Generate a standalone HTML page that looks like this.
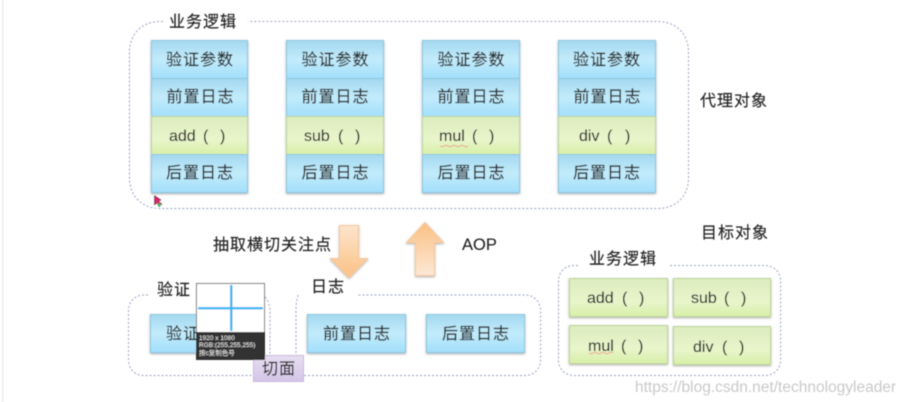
<!DOCTYPE html>
<html><head><meta charset="utf-8"><style>
html,body{margin:0;padding:0;background:#fff;width:909px;height:402px;overflow:hidden}
svg{display:block}
text{font-family:"Liberation Sans","Noto Sans CJK SC",sans-serif;fill:#222}
.t{font-size:16px;letter-spacing:1px;stroke:#222;stroke-width:.15px}
.a{font-size:16px;stroke:#222;stroke-width:.1px}
.g{filter:url(#b)}
</style></head><body>
<svg width="909" height="402" viewBox="0 0 909 402" xmlns="http://www.w3.org/2000/svg">
<defs>
<linearGradient id="bl" x1="0" y1="0" x2="0" y2="1"><stop offset="0" stop-color="#a4d8f0"/><stop offset=".5" stop-color="#c2ebfb"/><stop offset="1" stop-color="#a2dffb"/></linearGradient>
<linearGradient id="gr" x1="0" y1="0" x2="0" y2="1"><stop offset="0" stop-color="#dcecbe"/><stop offset=".6" stop-color="#e8f5cb"/><stop offset="1" stop-color="#d8efa8"/></linearGradient>
<linearGradient id="od" x1="0" y1="0" x2="0" y2="1"><stop offset="0" stop-color="#fde4cc"/><stop offset="1" stop-color="#fbc184"/></linearGradient>
<linearGradient id="ou" x1="0" y1="0" x2="0" y2="1"><stop offset="0" stop-color="#fbc184"/><stop offset="1" stop-color="#fde8d6"/></linearGradient>
<linearGradient id="pu" x1="0" y1="0" x2="0" y2="1"><stop offset="0" stop-color="#e6def0"/><stop offset="1" stop-color="#d4c5e8"/></linearGradient>
<filter id="b" x="-5%" y="-5%" width="110%" height="110%"><feGaussianBlur stdDeviation="0.45"/></filter>
<filter id="s" x="-10%" y="-10%" width="120%" height="125%"><feDropShadow dx="0" dy="1" stdDeviation="1" flood-color="#666" flood-opacity=".6"/></filter>
</defs>
<g class="g">
<rect x="2" y="0" width="1.5" height="402" fill="#ececec"/>
<g fill="none" stroke="#9aa3c4" stroke-width="1" stroke-dasharray="2 2">
<path d="M163 21.500H160C142 21.500 129.500 34 129.500 52V178C129.500 196 142 208.500 160 208.500H658C676 208.500 688.500 196 688.500 178V52C688.500 34 676 21.500 658 21.500H248"/>
<path d="M148 295H144C135 295 128.500 302 128.500 310V360C128.500 369 135 375.500 144 375.500H253M304 375.500H525C534 375.500 540.500 369 540.500 360V310C540.500 302 534 295 525 295H358M298 295C296.800 300 296 304 296 310V372M265 297C268 300 270 305 270 312V355"/>
<path d="M578 265.500H574C565 265.500 558.500 272 558.500 281V360C558.500 369 565 375.500 574 375.500H765C774 375.500 780.500 369 780.500 360V281C780.500 272 774 265.500 765 265.500H668"/>
</g>

<g filter="url(#s)" stroke="#8cc6de" stroke-width="1">
<rect x="151.500" y="40.500" width="96" height="38" fill="url(#bl)"/><rect x="151.500" y="78.500" width="96" height="38" fill="url(#bl)"/><rect x="151.500" y="116.500" width="96" height="38" fill="url(#gr)" stroke="#bdd39a"/><rect x="151.500" y="154.500" width="96" height="38" fill="url(#bl)"/>
<rect x="286.500" y="40.500" width="97" height="38" fill="url(#bl)"/><rect x="286.500" y="78.500" width="97" height="38" fill="url(#bl)"/><rect x="286.500" y="116.500" width="97" height="38" fill="url(#gr)" stroke="#bdd39a"/><rect x="286.500" y="154.500" width="97" height="38" fill="url(#bl)"/>
<rect x="422.500" y="40.500" width="97" height="38" fill="url(#bl)"/><rect x="422.500" y="78.500" width="97" height="38" fill="url(#bl)"/><rect x="422.500" y="116.500" width="97" height="38" fill="url(#gr)" stroke="#bdd39a"/><rect x="422.500" y="154.500" width="97" height="38" fill="url(#bl)"/>
<rect x="558.500" y="40.500" width="97" height="38" fill="url(#bl)"/><rect x="558.500" y="78.500" width="97" height="38" fill="url(#bl)"/><rect x="558.500" y="116.500" width="97" height="38" fill="url(#gr)" stroke="#bdd39a"/><rect x="558.500" y="154.500" width="97" height="38" fill="url(#bl)"/>
<rect x="150.500" y="314.500" width="98" height="38" fill="url(#bl)"/>
<rect x="307.500" y="314.500" width="98" height="38" fill="url(#bl)"/>
<rect x="426.500" y="314.500" width="98" height="38" fill="url(#bl)"/>
<g stroke="#bdd39a" fill="url(#gr)">
<rect x="569.500" y="278.500" width="98" height="38"/><rect x="673.500" y="278.500" width="97" height="38"/>
<rect x="569.500" y="325.500" width="98" height="38"/><rect x="673.500" y="326.500" width="97" height="38"/>
</g>
</g>

<g filter="url(#s)" stroke="#f5c79b" stroke-width="1">
<path d="M339.500 225.500H358.500V258.500H367.500L349 277.500L330.500 258.500H339.500Z" fill="url(#od)"/>
<path d="M425 222.500L443.500 242.500H434.500V275.500H415.500V242.500H406.500Z" fill="url(#ou)"/>
</g>

<text class="t" x="166" y="65">验证参数</text><text class="t" x="166.500" y="102">前置日志</text><text class="a" x="169" y="141">add<tspan x="203">(</tspan><tspan x="220">)</tspan></text><text class="t" x="166" y="178">后置日志</text>
<text class="t" x="301.500" y="65">验证参数</text><text class="t" x="301.500" y="102">前置日志</text><text class="a" x="304" y="141">sub<tspan x="338">(</tspan><tspan x="355">)</tspan></text><text class="t" x="301.500" y="178">后置日志</text>
<text class="t" x="437.500" y="65">验证参数</text><text class="t" x="437.500" y="102">前置日志</text><text class="a" x="439" y="141">mul<tspan x="472">(</tspan><tspan x="489">)</tspan></text><text class="t" x="437.500" y="178">后置日志</text>
<text class="t" x="573" y="65">验证参数</text><text class="t" x="573.500" y="102">前置日志</text><text class="a" x="579" y="141">div<tspan x="607">(</tspan><tspan x="625">)</tspan></text><text class="t" x="573" y="178">后置日志</text>
<text class="t" x="169" y="27">业务逻辑</text>
<text class="t" x="700" y="106">代理对象</text>
<text class="t" x="213" y="250">抽取横切关注点</text>
<text class="a" x="462" y="250" style="font-size:16.500px">AOP</text>
<text class="t" x="701" y="238">目标对象</text>
<text class="t" x="589" y="264">业务逻辑</text>
<text class="t" x="157" y="295">验证</text>
<text class="t" x="311" y="292">日志</text>
<text class="t" x="166" y="339">验证参数</text>
<text class="t" x="323" y="339">前置日志</text>
<text class="t" x="442" y="339">后置日志</text>
<text class="a" x="587" y="303">add<tspan x="622">(</tspan><tspan x="639">)</tspan></text>
<text class="a" x="691" y="303">sub<tspan x="724">(</tspan><tspan x="741">)</tspan></text>
<text class="a" x="588" y="351">mul<tspan x="621">(</tspan><tspan x="638">)</tspan></text>
<text class="a" x="693" y="352">div<tspan x="722">(</tspan><tspan x="739">)</tspan></text>
<path d="M440 146q2 1.500 4 0t4 0t4 0t4 0t4 0t4 0t4 0M589 353q2 1.500 4 0t4 0t4 0t4 0t4 0t4 0" fill="none" stroke="#e8a08c" stroke-width="1"/>

<rect x="253.500" y="355.500" width="50" height="26" fill="url(#pu)" stroke="#c8b8dc"/>
<text class="t" x="262" y="374">切面</text>

<rect x="196.500" y="283.500" width="68" height="76" fill="#fff" stroke="#777"/>
<rect x="196" y="332" width="69" height="28" fill="#333"/>
<rect x="230" y="285" width="2.500" height="46" fill="#3db8f5"/>
<rect x="198" y="307" width="65" height="2.500" fill="#3db8f5"/>
<text x="199" y="340" font-size="6.500" style="fill:#eee">1920 x 1080</text>
<text x="199" y="347" font-size="6.500" style="fill:#eee">RGB:(255,255,255)</text>
<text x="199" y="355" font-size="6.500" style="fill:#eee">按c复制色号</text>

<path d="M154.500 195.500L154.500 205L157 203L159 207L162 204L158.500 201.500L161 200Z" fill="#d8206a" stroke="#333" stroke-width=".5"/>
<path d="M157 203L159 207L161.500 204.500Z" fill="#38c060"/>
</g>
<text x="635" y="392" font-size="15.500" style="fill:#c9c9c9;filter:url(#b)">https://blog.csdn.net/technologyleader</text>
</svg>
</body></html>
